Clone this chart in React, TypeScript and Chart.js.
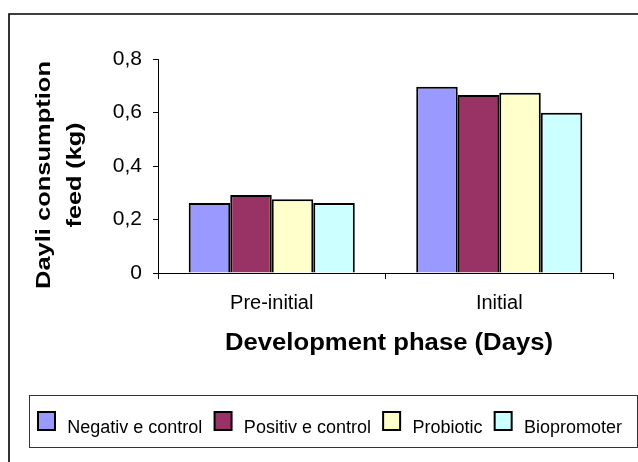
import React, { useEffect, useRef } from 'react';
import { Chart, registerables } from 'chart.js';

Chart.register(...registerables);

const categories = ['Pre-initial', 'Initial'];
const seriesNames = ['Negativ e control', 'Positiv e control', 'Probiotic', 'Biopromoter'];
const negativeControl = [0.262, 0.696];
const positiveControl = [0.292, 0.665];
const probiotic = [0.276, 0.674];
const biopromoter = [0.262, 0.599];
const seriesColors = ['#9999FF', '#993366', '#FFFFCC', '#CCFFFF'];
const yTickLabels = ['0', '0,2', '0,4', '0,6', '0,8'];
const yTitleLines = ['Dayli consumption', 'feed (kg)'];
const xTitle = 'Development phase (Days)';

const FONT = '"Liberation Sans", Arial, Helvetica, sans-serif';

const decorPlugin = {
  id: 'decor',
  afterDraw(chart: any) {
    const ctx = chart.ctx as CanvasRenderingContext2D;
    ctx.save();
    // outer frame
    ctx.strokeStyle = '#000';
    ctx.lineWidth = 1.6;
    ctx.beginPath();
    ctx.moveTo(9, 470);
    ctx.lineTo(9, 14);
    ctx.lineTo(650, 14);
    ctx.stroke();

    ctx.fillStyle = '#000';
    // x title
    ctx.font = `bold 23px ${FONT}`;
    ctx.textAlign = 'center';
    ctx.textBaseline = 'alphabetic';
    {
      const w = ctx.measureText(xTitle).width;
      const sx = 328 / w;
      ctx.save();
      ctx.translate(389, 350);
      ctx.scale(sx, 1);
      ctx.fillText(xTitle, 0, 0);
      ctx.restore();
    }
    // y title
    ctx.font = `bold 20.5px ${FONT}`;
    const yLens = [228, 105];
    const yBase = [49.5, 81];
    yTitleLines.forEach((line, i) => {
      const w = ctx.measureText(line).width;
      const sx = yLens[i] / w;
      ctx.save();
      ctx.translate(yBase[i], 175);
      ctx.rotate(-Math.PI / 2);
      ctx.scale(sx, 1);
      ctx.fillText(line, 0, 0);
      ctx.restore();
    });

    // legend
    const boxL = 29, boxT = 395, boxR = 637, boxB = 447;
    ctx.strokeStyle = '#333';
    ctx.lineWidth = 1;
    ctx.strokeRect(boxL + 0.5, boxT + 0.5, boxR - boxL, boxB - boxT);
    ctx.font = `18px ${FONT}`;
    ctx.textAlign = 'left';
    const datasets = chart.data.datasets;
    const widths = datasets.map((d: any) => ctx.measureText(d.label).width);
    const swatchToText = 29.3;
    const gap = 12.2;
    let x = 38;
    datasets.forEach((d: any, i: number) => {
      ctx.fillStyle = d.backgroundColor;
      ctx.fillRect(x, 412, 17, 18);
      ctx.strokeStyle = '#000';
      ctx.lineWidth = 2;
      ctx.strokeRect(x, 412, 17, 18);
      ctx.fillStyle = '#000';
      ctx.fillText(d.label, x + swatchToText, 433.3);
      x += swatchToText + widths[i] + gap;
    });
    ctx.restore();
  },
};

export default function App() {
  const ref = useRef<HTMLCanvasElement>(null);
  useEffect(() => {
    const values = [negativeControl, positiveControl, probiotic, biopromoter];
    const chart = new Chart(ref.current as HTMLCanvasElement, {
      type: 'bar',
      data: {
        labels: categories,
        datasets: seriesNames.map((name, i) => ({
          label: name,
          data: values[i],
          backgroundColor: seriesColors[i],
          borderColor: '#000',
          borderWidth: 2,
          categoryPercentage: 0.73,
          barPercentage: 1,
        })),
      },
      options: {
        responsive: false,
        animation: false,
        devicePixelRatio: 1,
        layout: { padding: { top: 59, right: 25, bottom: 149, left: 0 } },
        plugins: {
          legend: { display: false },
          tooltip: { enabled: false },
          title: { display: false },
        },
        scales: {
          x: {
            grid: { drawOnChartArea: false, drawTicks: true, tickLength: 6, color: '#000', lineWidth: 1, offset: true },
            border: { display: true, color: '#000', width: 1 },
            ticks: { color: '#000', font: { family: FONT, size: 20 }, padding: 12, maxRotation: 0 },
            afterFit: (scale: any) => { scale.height = 40; },
          },
          y: {
            min: 0,
            max: 0.8,
            grid: { drawOnChartArea: false, drawTicks: true, tickLength: 5, color: '#000', lineWidth: 1 },
            border: { display: true, color: '#000', width: 1 },
            ticks: {
              stepSize: 0.2,
              color: '#000',
              font: { family: FONT, size: 21 },
              padding: 11,
              callback: (_v: any, i: number) => yTickLabels[i],
            },
            afterFit: (scale: any) => { scale.width = 158; },
          },
        },
      },
      plugins: [decorPlugin],
    });
    return () => chart.destroy();
  }, []);
  return (
    <div style={{ position: 'absolute', left: 0, top: 0, width: 638, height: 462, background: '#fff' }}>
      <canvas ref={ref} width={638} height={462} style={{ display: 'block', width: 638, height: 462 }} />
    </div>
  );
}
